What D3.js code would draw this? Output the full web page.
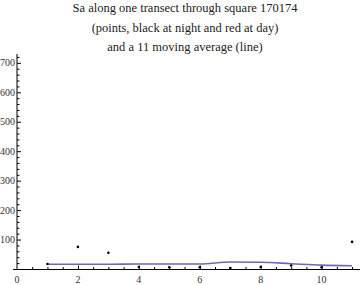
<!DOCTYPE html>
<html>
<head>
<meta charset="utf-8">
<script src="https://cdn.jsdelivr.net/npm/d3@7"></script>
<style>
    body { margin: 0; background: #fff; }
    svg { display: block; }
</style>
</head>
<body>
<svg id="chart"></svg>
<script>
const titleLines = [
    "Sa along one transect through square 170174",
    "(points, black at night and red at day)",
    "and a 11 moving average (line)"
]
const positions = [1, 2, 3, 4, 5, 6, 7, 8, 9, 10, 11]
const saValues = [17, 75, 55, 7, 6, 6, 3, 7, 12, 6, 92]
const movingAvg = [16, 16, 16, 17, 17, 17, 24, 23, 18, 13, 11]
const xTickValues = [0, 2, 4, 6, 8, 10]
const yTickValues = [100, 200, 300, 400, 500, 600, 700]

const chart = { width: 360, height: 285 }
const padding = { left: 17, right: 0, top: 54, bottom: 16 }

const svg = d3.select("#chart")
    .attr("width", chart.width)
    .attr("height", chart.height)

const scaleX = d3.scaleLinear()
    .domain([0, 11.26])
    .range([padding.left, chart.width - padding.right])

const scaleY = d3.scaleLinear()
    .domain([0, 730])
    .range([chart.height - padding.bottom, padding.top])

// title
svg.append("g")
    .selectAll("text")
    .data(titleLines)
    .enter()
    .append("text")
    .attr("x", 185)
    .attr("y", (d, i) => 12 + i * 19.5)
    .attr("text-anchor", "middle")
    .attr("font-family", "Liberation Serif, serif")
    .attr("font-size", 12.5)
    .attr("fill", "#222")
    .text(d => d)

// axes, ticks pointing inward like Mathematica
const yAxis = svg.append("g")
    .attr("transform", "translate(" + padding.left + ",0)")
yAxis.append("line")
    .attr("y1", scaleY(0)).attr("y2", padding.top)
    .attr("stroke", "#000")
yAxis.selectAll(".minor")
    .data(d3.range(20, 730, 20))
    .enter()
    .append("line")
    .attr("x1", 0).attr("x2", d => d % 100 === 0 ? 4 : 2.5)
    .attr("y1", d => scaleY(d) + 0.5).attr("y2", d => scaleY(d) + 0.5)
    .attr("stroke", "#000")
yAxis.selectAll("text")
    .data(yTickValues)
    .enter()
    .append("text")
    .attr("x", -2)
    .attr("y", d => scaleY(d) + 3.5)
    .attr("text-anchor", "end")
    .attr("font-family", "Liberation Serif, serif")
    .attr("font-size", 10)
    .attr("fill", "#333")
    .text(d => d)

const xAxis = svg.append("g")
    .attr("transform", "translate(0," + (scaleY(0) + 0.5) + ")")
xAxis.append("line")
    .attr("x1", padding.left - 4).attr("x2", chart.width)
    .attr("stroke", "#000")
xAxis.selectAll(".minor")
    .data(d3.range(0.5, 11.26, 0.5))
    .enter()
    .append("line")
    .attr("x1", d => scaleX(d) + 0.5).attr("x2", d => scaleX(d) + 0.5)
    .attr("y1", 0).attr("y2", d => d % 2 === 0 ? -4 : -2.5)
    .attr("stroke", "#000")
xAxis.selectAll("text")
    .data(xTickValues)
    .enter()
    .append("text")
    .attr("x", d => scaleX(d))
    .attr("y", 13)
    .attr("text-anchor", "middle")
    .attr("font-family", "Liberation Serif, serif")
    .attr("font-size", 10)
    .attr("fill", "#333")
    .text(d => d)

// moving average line
const avgData = positions.map((p, i) => ({ x: p, y: movingAvg[i] }))
svg.append("path")
    .datum(avgData)
    .attr("fill", "none")
    .attr("stroke", "#6a6ab4")
    .attr("stroke-width", 1.6)
    .attr("d", d3.line()
        .x(d => scaleX(d.x))
        .y(d => scaleY(d.y))
        .curve(d3.curveMonotoneX)
    )

// points
svg.append("g")
    .selectAll("circle")
    .data(positions.map((p, i) => ({ x: p, y: saValues[i] })))
    .enter()
    .append("circle")
    .attr("cx", d => scaleX(d.x))
    .attr("cy", d => scaleY(d.y))
    .attr("r", 1.3)
    .attr("fill", "#000")
</script>
</body>
</html>
